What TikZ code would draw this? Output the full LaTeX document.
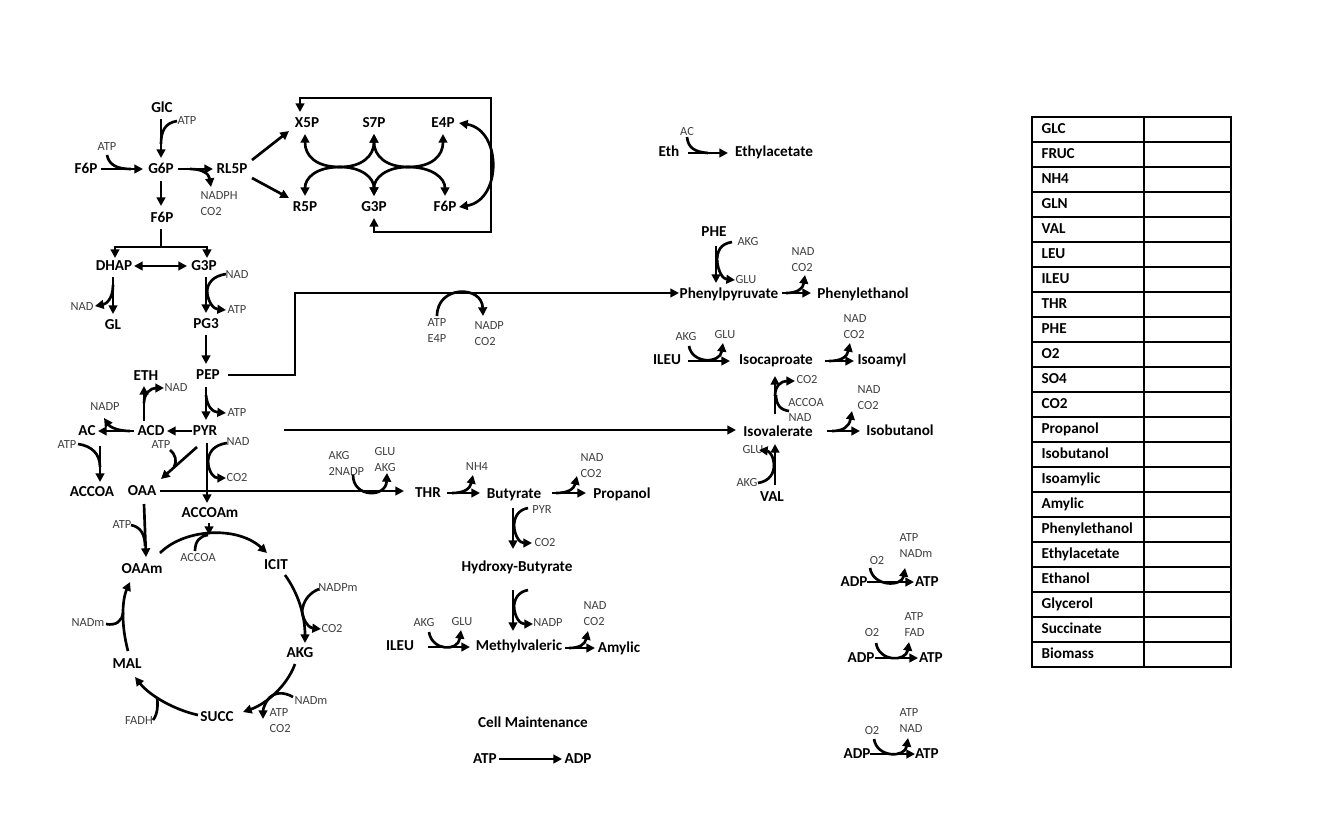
\documentclass[tikz,border=0pt]{standalone}
\usepackage{fontspec}
\setmainfont{Carlito}
\usetikzlibrary{arrows.meta}
\begin{document}
\begin{tikzpicture}[x=0.75pt,y=-0.75pt,
 mn/.style={font=\bfseries\fontsize{11.4}{13}\selectfont, inner sep=1pt, text height=8pt, text depth=2pt},
 sm/.style={font=\fontsize{9.3}{12}\selectfont, text=black!75, inner sep=1pt, text height=6.5pt, text depth=1.5pt},
 sml/.style={font=\fontsize{9.3}{12}\selectfont, text=black!75, inner sep=1pt, align=left, anchor=west},
 ar/.style={line width=2pt, -{Triangle[length=6.5pt,width=6.5pt]}},
 ln/.style={line width=2pt},
 bar/.style={line width=2pt, {Triangle[length=6.5pt,width=6.5pt]}-{Triangle[length=6.5pt,width=6.5pt]}},
 tb/.style={line width=1pt}
]
\fill[white] (0,0) rectangle (1330,822);
\useasboundingbox (0,0) rectangle (1330,822);

% ---------- nodes: glycolysis / PPP ----------
\node[mn] (glc) at (162,108) {GlC};
\node[sm] (atp1) at (187,121) {ATP};
\node[mn] (g6p) at (161,169) {G6P};
\node[mn] (f6pa) at (86,169) {F6P};
\node[sm] (atp2) at (107,147) {ATP};
\node[mn] (rl5p) at (232,169) {RL5P};
\node[sml] (nadph) at (199,204) {NADPH\\CO2};
\node[mn] (f6pb) at (162,218) {F6P};
\node[mn] (x5p) at (307,123) {X5P};
\node[mn] (s7p) at (374,123) {S7P};
\node[mn] (e4p) at (443,123) {E4P};
\node[mn] (r5p) at (305,207) {R5P};
\node[mn] (g3pa) at (374,207) {G3P};
\node[mn] (f6pc) at (445,207) {F6P};
\node[mn] (dhap) at (114,266) {DHAP};
\node[mn] (g3pb) at (204,266) {G3P};
\node[sm] (nad1) at (237,275) {NAD};
\node[sm] (nad2) at (82,307) {NAD};
\node[mn] (gl) at (113,325) {GL};
\node[sm] (atp3) at (237,310) {ATP};
\node[mn] (pg3) at (206,324) {PG3};
\node[mn] (pep) at (208,375) {PEP};
\node[mn] (eth) at (146,376) {ETH};
\node[sm] (nad3) at (176,388) {NAD};
\node[sm] (nadp1) at (105,407) {NADP};
\node[sm] (atp4) at (237,413) {ATP};
\node[mn] (ac) at (87,431) {AC};
\node[mn] (acd) at (151,431) {ACD};
\node[mn] (pyr) at (205,431) {PYR};
\node[sm] (atp5) at (67,445) {ATP};
\node[sm] (atp6) at (161,445) {ATP};
\node[sm] (nad4) at (238,442) {NAD};
\node[sm] (co2a) at (237,478) {CO2};
\node[mn] (accoa) at (92,492) {ACCOA};
\node[mn] (oaa) at (142,491) {OAA};
\node[mn] (accoam) at (210,513) {ACCOAm};
\node[sm] (atp7) at (122,525) {ATP};
\node[sm] (accoas) at (198,558) {ACCOA};
\node[mn] (oaam) at (142,569) {OAAm};
\node[mn] (icit) at (276,565) {ICIT};
\node[sm] (nadpm) at (338,588) {NADPm};
\node[sm] (co2b) at (332,629) {CO2};
\node[sm] (nadm1) at (88,623) {NADm};
\node[mn] (akg) at (300,653) {AKG};
\node[mn] (mal) at (127,664) {MAL};
\node[sm] (nadm2) at (311,701) {NADm};
\node[sml] (atpco2) at (268,721) {ATP\\CO2};
\node[sm] (fadh) at (139,721) {FADH};
\node[mn] (succ) at (217,717) {SUCC};

% ---------- nodes: middle ----------
\node[sml] (atpe4p) at (426,331) {ATP\\E4P};
\node[sml] (nadpco2) at (473,334) {NADP\\CO2};
\node[sml] (akg2nadp) at (327,463) {AKG\\2NADP};
\node[sml] (gluakg) at (373,460) {GLU\\AKG};
\node[mn] (thr) at (428,493) {THR};
\node[sm] (nh4) at (477,467) {NH4};
\node[mn] (but) at (514,494) {Butyrate};
\node[sml] (nadco2a) at (579,466) {NAD\\CO2};
\node[mn] (prop) at (622,494) {Propanol};
\node[sm] (pyrs) at (542,510) {PYR};
\node[sm] (co2d) at (545,543) {CO2};
\node[mn] (hb) at (517,567) {Hydroxy-Butyrate};
\node[sm] (nadp2) at (548,623) {NADP};
\node[sml] (nadco2b) at (582,614) {NAD\\CO2};
\node[sm] (akg3) at (424,623) {AKG};
\node[sm] (glu1) at (462,622) {GLU};
\node[mn] (ileu1) at (400,646) {ILEU};
\node[mn] (mv) at (519,646) {Methylvaleric};
\node[mn] (amy) at (619,648) {Amylic};
\node[mn] (cm) at (533,723) {Cell Maintenance};
\node[mn] (atpcm) at (485,759) {ATP};
\node[mn] (adpcm) at (578,759) {ADP};

% ---------- nodes: right ----------
\node[sm] (acs) at (687,132) {AC};
\node[mn] (eths) at (669,152) {Eth};
\node[mn] (ethac) at (774,152) {Ethylacetate};
\node[mn] (phe) at (714,232) {PHE};
\node[sm] (akg4) at (748,242) {AKG};
\node[sml] (nadco2c) at (790,260) {NAD\\CO2};
\node[sm] (glu2) at (746,280) {GLU};
\node[mn] (phpyr) at (729,294) {Phenylpyruvate};
\node[mn] (pheth) at (863,294) {Phenylethanol};
\node[sm] (akg5) at (686,337) {AKG};
\node[sm] (glu3) at (725,335) {GLU};
\node[sml] (nadco2d) at (842,327) {NAD\\CO2};
\node[mn] (ileu2) at (667,360) {ILEU};
\node[mn] (isoc) at (776,360) {Isocaproate};
\node[mn] (isoam) at (882,360) {Isoamyl};
\node[sm] (co2e) at (807,380) {CO2};
\node[sml] (nadco2e) at (856,398) {NAD\\CO2};
\node[sm] (accoas2) at (806,403) {ACCOA};
\node[sm] (nads) at (800,418) {NAD};
\node[mn] (isov) at (778,432) {Isovalerate};
\node[mn] (isob) at (900,431) {Isobutanol};
\node[sm] (glu4) at (753,450) {GLU};
\node[sm] (akg6) at (747,483) {AKG};
\node[mn] (val) at (772,497) {VAL};

\node[sm] (o2a) at (877,561) {O2};
\node[sml] (atpnadm) at (898,546) {ATP\\NADm};
\node[mn] (adpa) at (854,582) {ADP};
\node[mn] (atpa) at (927,582) {ATP};
\node[sm] (o2b) at (872,633) {O2};
\node[sml] (atpfad) at (903,625) {ATP\\FAD};
\node[mn] (adpb) at (861,658) {ADP};
\node[mn] (atpb) at (931,658) {ATP};
\node[sm] (o2c) at (872,731) {O2};
\node[sml] (atpnad) at (898,721) {ATP\\NAD};
\node[mn] (adpc) at (857,754) {ADP};
\node[mn] (atpc) at (927,754) {ATP};

% ---------- connectors: glycolysis ----------
\draw[ar] (161,119) -- (161,158);
\draw[ln] (177,121) .. controls (165,123) and (161,131) .. (161,144);
\draw[ar] (101,169) -- (143,169);
\draw[ln] (107,155) .. controls (109,165) and (117,169) .. (131,169);
\draw[ar] (178,169) -- (213,169);
\draw[ar] (190,169) .. controls (203,169) and (209,174) .. (211,187);
\draw[ar] (161,181) -- (161,206);
\draw[ln] (161,229) -- (161,247);
\draw[ar] (161,247) -| (115,258);
\draw[ar] (161,247) -| (207,258);
\draw[bar] (134,266) -- (187,266);
\draw[ar] (113,277) -- (113,314);
\draw[ar] (113,285) .. controls (113,299) and (106,304) .. (95,306);
\draw[ar] (206,277) -- (206,313);
\draw[ln] (226,274) .. controls (213,276) and (207,283) .. (207,293);
\draw[ar] (207,291) .. controls (208,303) and (214,309) .. (226,310);
\draw[ar] (206,335) -- (206,364);
\draw[ar] (228,375) -- (295,375) -- (295,293) -- (679,293);
\draw[ar] (437,316) .. controls (437,285) and (482,285) .. (483,316);
\draw[ar] (206,387) -- (206,420);
\draw[ar] (206,395) .. controls (207,407) and (213,412) .. (226,413);
\draw[ar] (192,431) -- (167,431);
\draw[ar] (134,431) -- (98,431);
\draw[ar] (130,431) .. controls (118,431) and (110,427) .. (104,418);
\draw[ar] (144,421) -- (144,386);
\draw[ar] (144,403) .. controls (144,393) and (151,388) .. (164,388);
\draw[ar] (100,446) -- (100,482);
\draw[ln] (78,444) .. controls (92,446) and (100,454) .. (100,467);
\draw[ar] (197,447) -- (161,479);
\draw[ln] (170,450) .. controls (176,455) and (177,461) .. (174,467);
\draw[ar] (207,443) -- (207,503);
\draw[ln] (227,443) .. controls (213,445) and (208,453) .. (208,463);
\draw[ar] (208,462) .. controls (209,473) and (214,478) .. (226,478);
\draw[ar] (160,491) -- (404,491);
\draw[ar] (353,475) .. controls (353,498) and (386,498) .. (387,473);
\draw[ar] (284,430) -- (736,430);

% ---------- TCA ----------
\draw[ar] (144,504) -- (146,557);
\draw[ln] (131,525) .. controls (141,527) and (145,535) .. (145,546);
\draw[ar] (209,523) -- (209,535);
\draw[ar] (160,553) .. controls (185,528) and (238,526) .. (267,553);
\draw[ln] (195,551) .. controls (195,541) and (200,536) .. (208,535);
\draw[ar] (285,575) .. controls (298,593) and (305,615) .. (305,643);
\draw[ln] (319,589) .. controls (309,593) and (303,601) .. (302,612);
\draw[ar] (302,612) .. controls (304,623) and (310,628) .. (321,629);
\draw[ar] (295,664) .. controls (287,686) and (266,704) .. (243,712);
\draw[ln] (293,697) .. controls (283,691) and (274,693) .. (269,698);
\draw[ar] (269,698) .. controls (265,703) and (263,709) .. (263,719);
\draw[ar] (198,715) .. controls (175,710) and (150,696) .. (135,677);
\draw[ln] (153,720) .. controls (158,714) and (158,704) .. (157,697);
\draw[ar] (128,651) .. controls (121,625) and (122,600) .. (130,582);
\draw[ln] (106,624) .. controls (116,626) and (122,621) .. (123,613);

% ---------- PPP ----------
\draw[ar] (252,160) -- (289,131);
\draw[ar] (252,178) -- (289,198);
\draw[ar] (340,167) .. controls (316,167) and (305,156) .. (305,134);
\draw[ar] (340,167) .. controls (362,167) and (374,156) .. (374,134);
\draw[ar] (340,167) .. controls (316,167) and (305,178) .. (305,196);
\draw[ar] (340,167) .. controls (362,167) and (374,178) .. (374,196);
\draw[ar] (408,167) .. controls (386,167) and (374,156) .. (374,134);
\draw[ar] (408,167) .. controls (432,167) and (443,156) .. (443,134);
\draw[ar] (408,167) .. controls (386,167) and (374,178) .. (374,196);
\draw[ar] (408,167) .. controls (432,167) and (445,178) .. (445,196);
\draw[bar] (459,123) .. controls (502,130) and (502,200) .. (459,207);
\draw[bar] (300,112) -- (300,98) -- (491,98) -- (491,232) -- (374,232) -- (374,218);

% ---------- middle ----------
\draw[ar] (447,493) -- (480,493);
\draw[ar] (452,493) .. controls (464,493) and (470,489) .. (473,475);
\draw[ar] (552,493) -- (586,493);
\draw[ar] (556,493) .. controls (568,493) and (574,489) .. (577,476);
\draw[ar] (513,508) -- (513,549);
\draw[ln] (528,508) .. controls (518,510) and (514,517) .. (514,527);
\draw[ar] (514,526) .. controls (515,537) and (520,543) .. (532,543);
\draw[ar] (513,590) -- (513,631);
\draw[ln] (528,590) .. controls (518,592) and (514,599) .. (514,608);
\draw[ar] (514,607) .. controls (515,618) and (520,624) .. (533,624);
\draw[ar] (428,647) -- (470,647);
\draw[ar] (429,632) .. controls (432,651) and (458,652) .. (461,630);
\draw[ar] (565,648) -- (595,648);
\draw[ar] (569,648) .. controls (580,648) and (585,644) .. (588,631);
\draw[ar] (499,759) -- (562,759);

% ---------- right ----------
\draw[ar] (688,153) -- (728,153);
\draw[ln] (687,137) .. controls (688,148) and (695,152) .. (708,153);
\draw[ar] (716,246) -- (716,283);
\draw[ln] (732,242) .. controls (720,244) and (717,251) .. (717,262);
\draw[ar] (717,260) .. controls (718,272) and (723,279) .. (735,280);
\draw[ar] (782,293) -- (811,293);
\draw[ar] (786,293) .. controls (797,293) and (803,289) .. (805,275);
\draw[ar] (688,361) -- (730,361);
\draw[ar] (689,346) .. controls (692,364) and (720,364) .. (723,343);
\draw[ar] (825,361) -- (854,361);
\draw[ar] (829,361) .. controls (841,361) and (847,357) .. (850,343);
\draw[ar] (775,414) -- (775,376);
\draw[ar] (775,396) .. controls (775,386) and (781,381) .. (795,381);
\draw[ln] (789,411) .. controls (780,410) and (776,404) .. (776,395);
\draw[ar] (827,431) -- (860,431);
\draw[ar] (832,431) .. controls (843,431) and (849,427) .. (852,411);
\draw[ar] (775,485) -- (775,444);
\draw[ln] (758,483) .. controls (770,481) and (774,473) .. (774,465);
\draw[ar] (774,466) .. controls (774,456) and (769,451) .. (759,450);

\draw[ar] (867,582) -- (914,582);
\draw[ar] (870,568) .. controls (873,587) and (902,587) .. (905,568);
\draw[ar] (875,658) -- (918,658);
\draw[ar] (876,643) .. controls (879,662) and (906,662) .. (909,642);
\draw[ar] (870,754) -- (915,754);
\draw[ar] (874,739) .. controls (877,758) and (905,758) .. (908,738);

% ---------- table ----------
\draw[tb] (1032,117) rectangle (1231,667);
\draw[tb] (1144,117) -- (1144,667);
\foreach \i in {1,...,21} \draw[tb] (1032,{117+25*\i}) -- (1231,{117+25*\i});
\foreach \t [count=\i from 0] in {GLC,FRUC,NH4,GLN,VAL,LEU,ILEU,THR,PHE,O2,SO4,CO2,Propanol,Isobutanol,Isoamylic,Amylic,Phenylethanol,Ethylacetate,Ethanol,Glycerol,Succinate,Biomass}
  \node[mn, anchor=west] (tab\i) at (1040,{129.5+25*\i}) {\t};
\end{tikzpicture}
\end{document}
